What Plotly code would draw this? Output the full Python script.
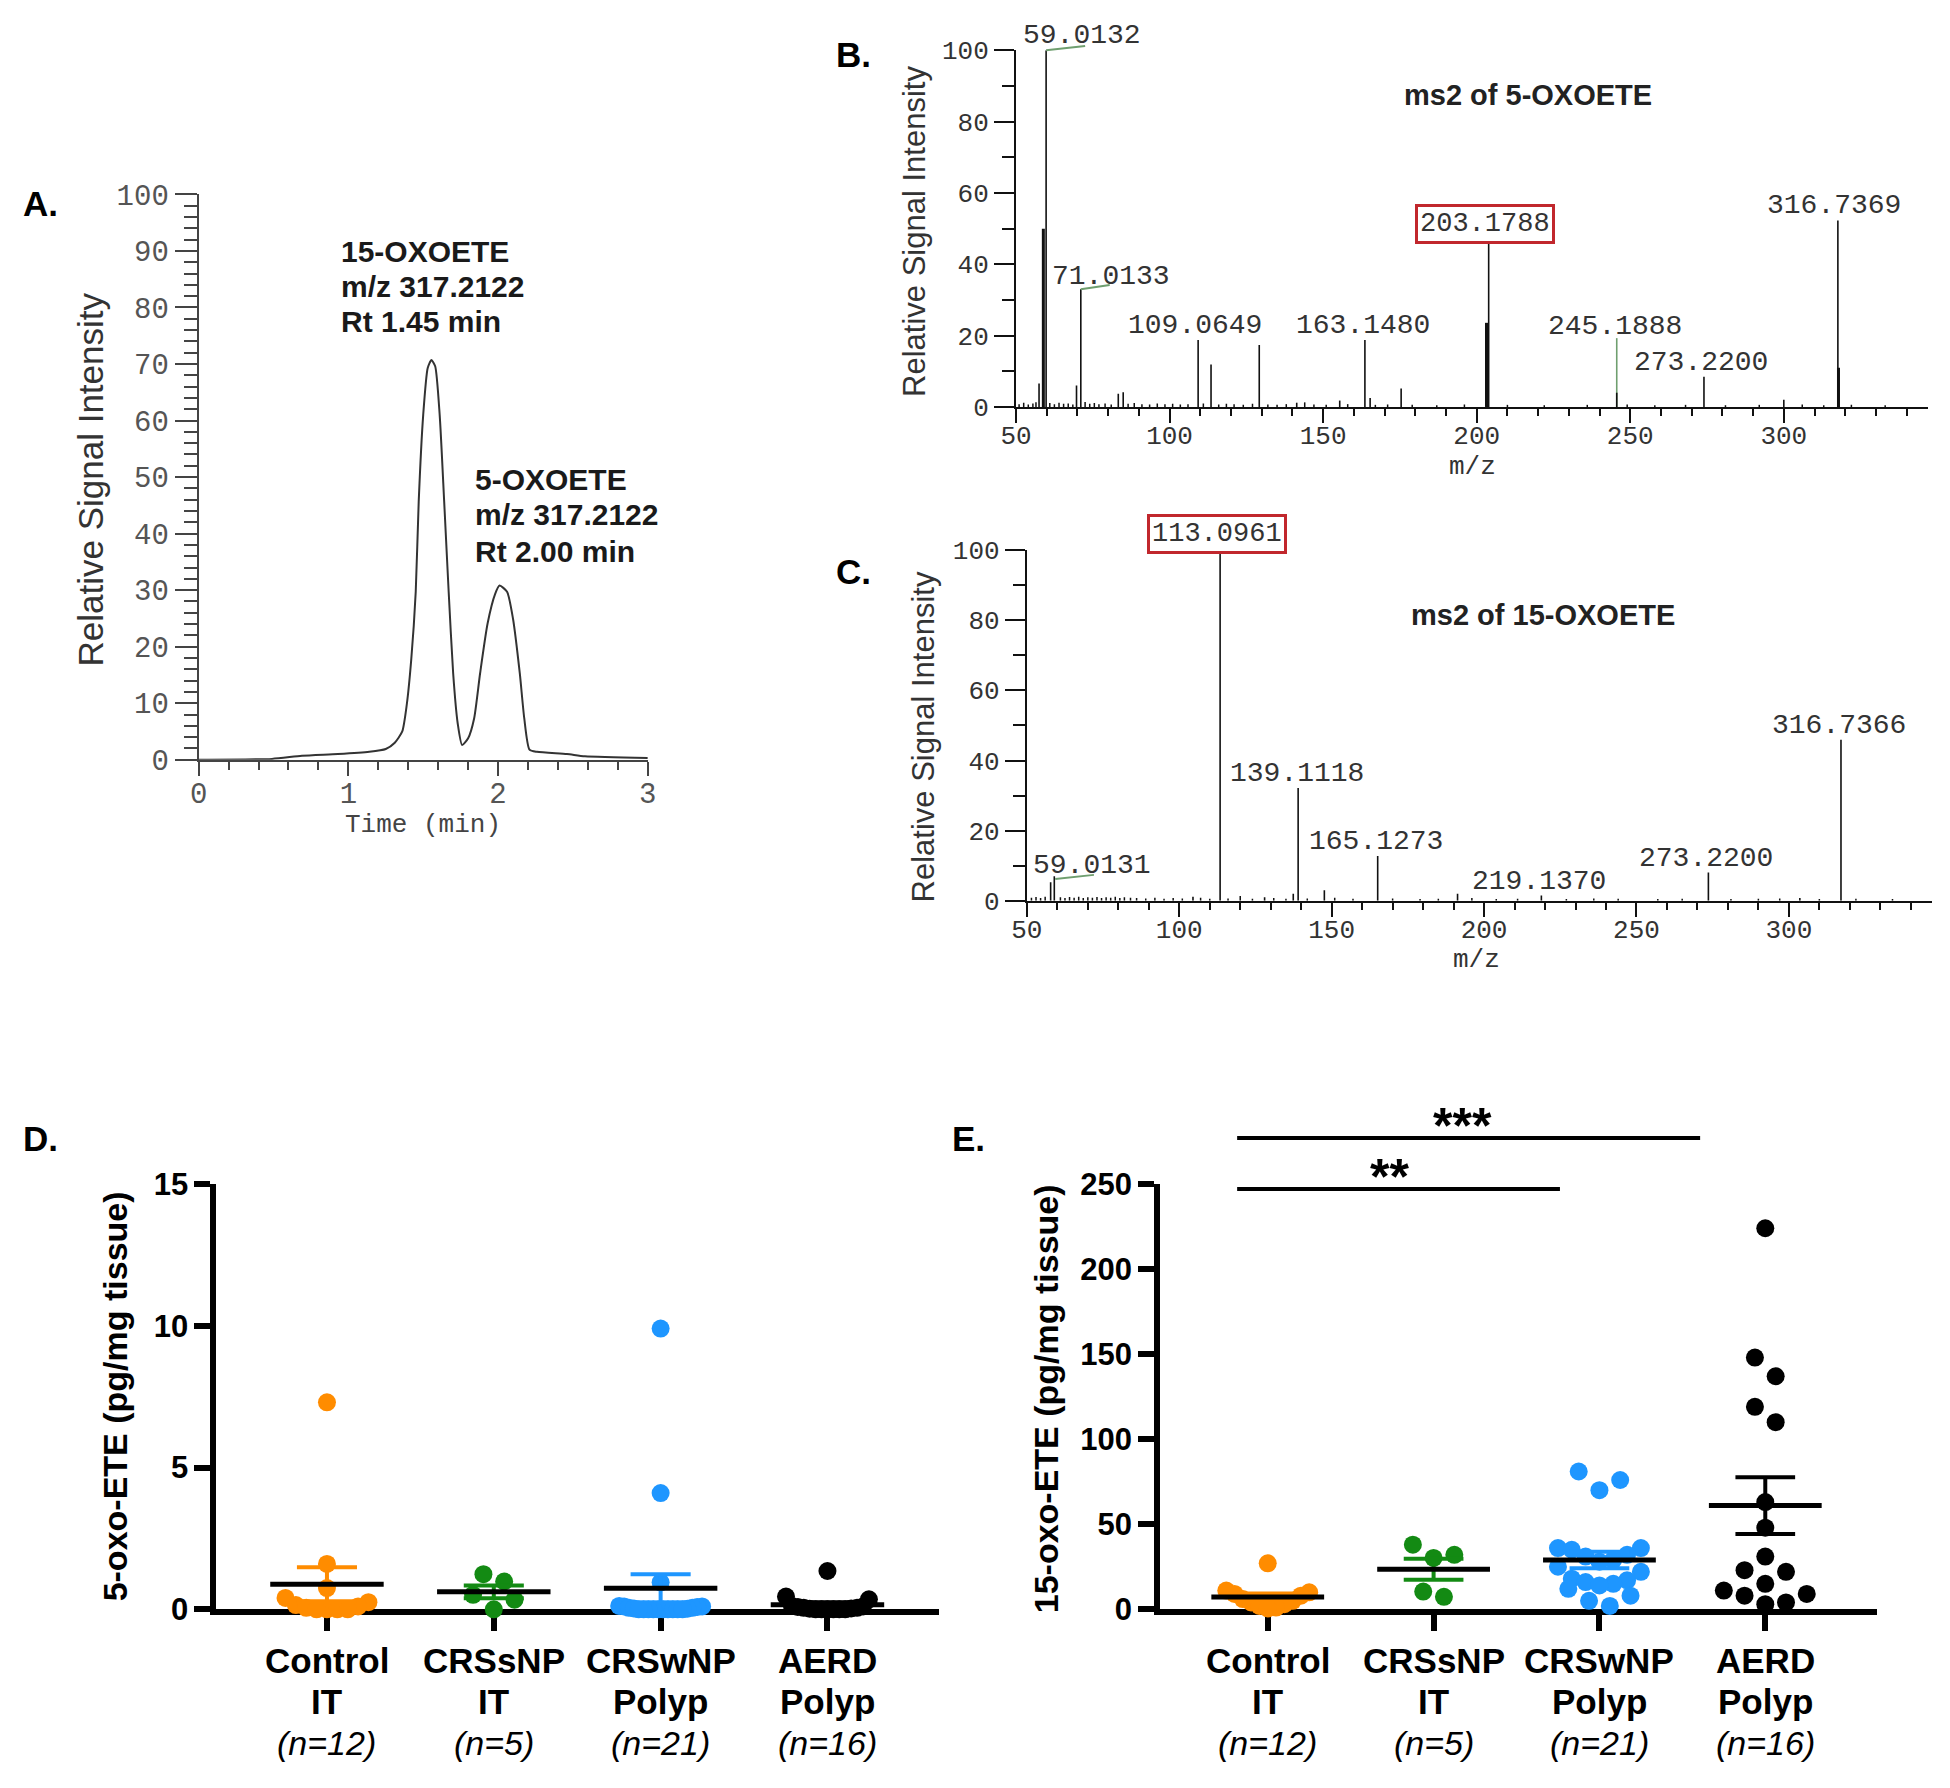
import numpy as np
import plotly.graph_objects as go

W, H = 1950, 1788
MONO = "Liberation Mono, DejaVu Sans Mono, monospace"
SANS = "Liberation Sans, Arial, sans-serif"

# ---------------- Panel A: chromatogram ----------------
A_time = [0.0, 0.49, 0.69, 0.93, 1.14, 1.25, 1.31, 1.36, 1.39, 1.42, 1.45, 1.47, 1.50, 1.53, 1.555,
          1.58, 1.61, 1.64, 1.67, 1.70, 1.73, 1.76, 1.80, 1.84, 1.88, 1.93, 1.98, 2.01, 2.06, 2.10,
          2.145, 2.175, 2.21, 2.26, 2.46, 2.58, 3.0]
A_int = [0.0, 0.15, 0.7, 1.0, 1.4, 1.9, 3.0, 5.0, 9.7, 17.7, 29.7, 45.7, 61.0, 69.3, 70.7,
         69.6, 61.0, 45.7, 29.7, 15.3, 6.5, 2.6, 3.8, 7.3, 15.3, 24.1, 29.3, 30.8, 29.7, 24.9,
         15.3, 7.3, 1.8, 1.4, 1.0, 0.6, 0.3]

# ---------------- Panel B: ms2 of 5-OXOETE ----------------
B_mz = [57.5, 59.8, 69.7, 71.1, 83.3, 84.9, 109.3, 113.5, 129.2, 141.4, 155.4, 163.6, 165.3, 175.4,
        203.9, 245.6, 274.0, 300.0, 317.6]
B_int = [6.6, 100, 6.0, 33.0, 3.7, 4.1, 18.8, 11.9, 17.4, 1.2, 1.8, 18.8, 2.5, 5.2,
         46.8, 4.0, 8.5, 2.0, 52.3]
B_thick_mz = [58.9, 203.2, 317.8]
B_thick_int = [50.0, 23.6, 11.0]
B_green_mz = [245.6]
B_green_int = [19.3]
B_noise_mz = [51, 52.5, 54, 55.5, 56.5, 61, 62.5, 64, 65.5, 67, 68.5, 72.5, 74, 75.5, 77, 79, 81,
              86.5, 88.5, 91, 93.5, 96, 98.5, 101, 103.5, 106, 111, 116, 118.5, 121, 124, 127, 132,
              135, 138, 144, 147, 151, 158, 167, 171, 179, 187, 196, 210, 222, 236, 249, 258, 268,
              281, 292, 306, 313, 322, 333]
B_noise_int = [0.8, 1.2, 0.7, 1.0, 1.3, 1.1, 0.8, 1.2, 0.9, 1.0, 0.7, 1.4, 0.9, 1.1, 0.8, 1.0, 0.7,
               0.9, 1.1, 0.8, 0.7, 1.0, 0.8, 0.9, 0.7, 0.8, 1.0, 0.7, 0.9, 0.8, 0.6, 0.9, 0.7,
               0.6, 0.8, 1.3, 0.7, 0.6, 0.8, 0.6, 0.7, 0.6, 0.5, 0.7, 0.6, 0.5, 0.6, 0.7, 0.5, 0.6,
               0.5, 0.6, 0.7, 0.5, 0.6, 0.5]

# ---------------- Panel C: ms2 of 15-OXOETE ----------------
C_mz = [57.8, 59.0, 104.5, 113.4, 128.0, 137.4, 139.0, 147.6, 165.1, 191.3, 218.8, 273.6, 303.6, 317.1]
C_int = [5.3, 7.0, 1.2, 100, 1.0, 2.0, 32.2, 3.0, 12.8, 2.0, 1.5, 8.1, 0.8, 45.9]
C_noise_mz = [51.5, 53, 54.5, 56, 61, 62.5, 64, 65.5, 67, 68.5, 70, 71.5, 73, 74.5, 76, 77.5, 79,
              80.5, 82, 84, 86, 89, 92, 95, 98, 101, 107, 110, 116, 120, 124, 131, 135, 142, 151,
              157, 170, 179, 185, 196, 204, 211, 227, 236, 244, 257, 265, 281, 290, 297, 310, 322, 334]
C_noise_int = [0.9, 1.1, 0.8, 1.2, 1.0, 0.8, 1.1, 0.9, 1.2, 0.8, 1.0, 0.9, 1.1, 0.8, 1.0, 0.9, 1.2,
               0.8, 1.0, 0.9, 0.8, 0.7, 0.9, 0.6, 0.8, 0.7, 0.9, 0.6, 0.7, 1.4, 0.6, 0.8, 0.6, 0.7,
               0.9, 0.6, 0.7, 0.5, 0.6, 0.8, 0.5, 0.6, 0.5, 0.7, 0.6, 0.5, 0.6, 0.5, 0.6, 0.7, 0.5,
               0.6, 0.5]

# ---------------- Panels D / E: tissue levels ----------------
cat_line1 = ["Control", "CRSsNP", "CRSwNP", "AERD"]
cat_line2 = ["IT", "IT", "Polyp", "Polyp"]
cat_n = ["(n=12)", "(n=5)", "(n=21)", "(n=16)"]
group_colors = ["#FF8C00", "#138A13", "#1E96FF", "#000000"]

D_control = [7.3, 1.6, 0.75, 0.4, 0.25, 0.15, 0.1, 0.05, 0.0, 0.0, 0.0, 0.0]
D_crssnp = [1.24, 0.98, 0.51, 0.34, 0.0]
D_crswnp = [9.9, 4.1, 0.95, 0.12, 0.1, 0.1, 0.08, 0.05, 0.05, 0.03, 0.02,
            0.0, 0.0, 0.0, 0.0, 0.0, 0.0, 0.0, 0.0, 0.0, 0.0]
D_aerd = [1.35, 0.45, 0.35, 0.12, 0.1, 0.08, 0.05, 0.05, 0.03, 0.02, 0.0, 0.0, 0.0, 0.0, 0.0, 0.0]

E_control = [27, 11, 10, 9, 8, 6, 5, 4, 3, 2, 1, 0.5]
E_crssnp = [38, 32, 30.2, 10.4, 7.3]
E_crswnp = [81, 76, 70, 36, 36, 35, 32, 31, 29, 28, 25, 22, 18, 17, 16, 15, 14, 12, 8, 5, 2]
E_aerd = [224, 148, 137, 119, 110, 63, 48, 31, 23, 22, 15, 11, 9, 8, 4, 3]

D_groups = [D_control, D_crssnp, D_crswnp, D_aerd]
E_groups = [E_control, E_crssnp, E_crswnp, E_aerd]


# ---------------- helpers ----------------
def px(x):
    return x / W


def py(y):
    return 1 - y / H


def sticks(mz, inten):
    xs, ys = [], []
    for m, h in zip(mz, inten):
        xs += [m, m, None]
        ys += [0, h, None]
    return xs, ys


def spread(vals, unit_px, cat_px, row_h=16, gap=21, maxhalf=42):
    """Deterministic column-scatter layout (Prism-like rows)."""
    v = np.asarray(vals, float)
    order = np.argsort(v, kind="stable")
    offs = np.zeros(len(v))
    rows, cur = [], [order[0]]
    for i in order[1:]:
        if (v[i] - v[cur[0]]) * unit_px < row_h:
            cur.append(i)
        else:
            rows.append(cur)
            cur = [i]
    rows.append(cur)
    for r in rows:
        n = len(r)
        if n == 1:
            continue
        sp = min(gap, 2 * maxhalf / (n - 1))
        slots = sorted([(j - (n - 1) / 2) * sp for j in range(n)], key=lambda s: (round(abs(s), 6), -s))
        for idx, s in zip(r, slots):
            offs[idx] = s / cat_px
    return offs


fig = go.Figure()

# ---- A ----
fig.add_trace(go.Scatter(x=A_time, y=A_int, mode="lines",
                         line=dict(color="#333333", width=2, shape="spline", smoothing=0.6),
                         xaxis="x", yaxis="y", hoverinfo="skip"))

# ---- B ----
xs, ys = sticks(B_noise_mz, B_noise_int)
fig.add_trace(go.Scatter(x=xs, y=ys, mode="lines", line=dict(color="#111", width=1.5), xaxis="x2", yaxis="y2"))
xs, ys = sticks(B_green_mz, B_green_int)
fig.add_trace(go.Scatter(x=xs, y=ys, mode="lines", line=dict(color="#6f9f6f", width=1.6), xaxis="x2", yaxis="y2"))
xs, ys = sticks(B_mz, B_int)
fig.add_trace(go.Scatter(x=xs, y=ys, mode="lines", line=dict(color="#111", width=1.6), xaxis="x2", yaxis="y2"))
xs, ys = sticks(B_thick_mz, B_thick_int)
fig.add_trace(go.Scatter(x=xs, y=ys, mode="lines", line=dict(color="#111", width=3), xaxis="x2", yaxis="y2"))

# ---- C ----
xs, ys = sticks(C_noise_mz, C_noise_int)
fig.add_trace(go.Scatter(x=xs, y=ys, mode="lines", line=dict(color="#111", width=1.5), xaxis="x3", yaxis="y3"))
xs, ys = sticks(C_mz, C_int)
fig.add_trace(go.Scatter(x=xs, y=ys, mode="lines", line=dict(color="#111", width=1.6), xaxis="x3", yaxis="y3"))


# ---- D / E ----
def add_dot_panel(groups, xa, ya, unit_px, cat_px, row_h):
    for k, vals in enumerate(groups):
        offs = spread(vals, unit_px, cat_px, row_h=row_h)
        fig.add_trace(go.Scatter(x=k + offs, y=vals, mode="markers", cliponaxis=False,
                                 marker=dict(size=18, color=group_colors[k], line=dict(width=0)),
                                 xaxis=xa, yaxis=ya))
    for k, vals in enumerate(groups):
        v = np.asarray(vals, float)
        m = v.mean()
        sem = v.std(ddof=1) / np.sqrt(len(v))
        cw = 0.18
        fig.add_trace(go.Scatter(
            x=[k, k, None, k - cw, k + cw, None, k - cw, k + cw],
            y=[m - sem, m + sem, None, m + sem, m + sem, None, m - sem, m - sem],
            mode="lines", line=dict(color=group_colors[k], width=4), cliponaxis=False,
            xaxis=xa, yaxis=ya))
        fig.add_trace(go.Scatter(x=[k - 0.34, k + 0.34], y=[m, m], mode="lines",
                                 line=dict(color="black", width=5), xaxis=xa, yaxis=ya))


add_dot_panel(D_groups, "x4", "y4", 434 / 15, 169, 16)
add_dot_panel(E_groups, "x5", "y5", 434 / 250, 168, 20)

# ---------------- axes ----------------
thin_common = dict(showgrid=False, zeroline=False, showline=True, ticks="outside")


def spec_ax(dom, color, fontcolor, rng, dtick, mdtick, tl, mtl, fsize, standoff=0):
    return dict(**thin_common, domain=dom, range=rng, dtick=dtick, tick0=0, linecolor=color, linewidth=2,
                tickcolor=color, tickwidth=2, ticklen=tl, ticklabelstandoff=standoff,
                minor=dict(dtick=mdtick, ticklen=mtl, tickwidth=2, tickcolor=color, ticks="outside"),
                tickfont=dict(family=MONO, size=fsize, color=fontcolor))


layout_axes = dict(
    xaxis=dict(**spec_ax([px(185), px(640)], "#444", "#555", [0, 3], 1, 0.2, 14, 8, 29, -8), anchor="y"),
    yaxis=dict(**spec_ax([py(758), py(181)], "#444", "#555", [0, 100], 10, 2, 22, 13, 29), anchor="x"),
    xaxis2=dict(**spec_ax([px(1013), px(1937)], "#111", "#333", [50, 347], 50, 10, 14, 7, 26, -10), anchor="y2"),
    yaxis2=dict(**spec_ax([py(398), py(34)], "#111", "#333", [0, 100], 20, 10, 20, 12, 26), anchor="x2"),
    xaxis3=dict(**spec_ax([px(1024), px(1941)], "#111", "#333", [50, 347], 50, 10, 14, 7, 26, -10), anchor="y3"),
    yaxis3=dict(**spec_ax([py(902), py(544)], "#111", "#333", [0, 100], 20, 10, 20, 12, 26), anchor="x3"),
)

thick_x = dict(showgrid=False, zeroline=False, showline=True, linecolor="black", linewidth=6,
               ticks="outside", tickcolor="black", tickwidth=6, ticklen=16, tickvals=[0, 1, 2, 3],
               showticklabels=False, layer="below traces")
thick_y = dict(showgrid=False, zeroline=False, showline=True, linecolor="black", linewidth=6,
               ticks="outside", tickcolor="black", tickwidth=6, ticklen=16,
               tickfont=dict(family=SANS, size=31, color="black", weight="bold"))
layout_axes.update(
    xaxis4=dict(**thick_x, domain=[px(203), px(935)], range=[(203 - 315) / 169, (935 - 315) / 169], anchor="y4"),
    yaxis4=dict(**thick_y, domain=[py(1625), py(1191)], range=[0, 15], tickvals=[0, 5, 10, 15], anchor="x4"),
    xaxis5=dict(**thick_x, domain=[px(1159), px(1885)], range=[(1159 - 1268) / 168, (1885 - 1268) / 168], anchor="y5"),
    yaxis5=dict(**thick_y, domain=[py(1625), py(1191)], range=[0, 250], tickvals=[0, 50, 100, 150, 200, 250], anchor="x5"),
)

# ---------------- annotations ----------------
ann = []


def text(x, y, t, size, family=SANS, color="black", weight="normal", style="normal", xanchor="center",
         yanchor="middle", textangle=0, xref="paper", yref="paper", **kw):
    ann.append(dict(x=x, y=y, xref=xref, yref=yref, text=t, showarrow=False, xanchor=xanchor, yanchor=yanchor,
                    textangle=textangle,
                    font=dict(family=family, size=size, color=color, weight=weight, style=style), **kw))


def ypB(v):
    return py(398) + v / 100 * (py(34) - py(398))


def ypC(v):
    return py(902) + v / 100 * (py(544) - py(902))


# panel letters
for lab, (lx, ly) in zip(["A.", "B.", "C.", "D.", "E."], [(5, 190), (829, 38), (829, 566), (5, 1145), (946, 1145)]):
    text(px(lx), py(ly), lab, 35, weight="bold", xanchor="left")

# A
text(px(75), py(472), "Relative Signal Intensity", 35, color="#333", textangle=-90)
text(px(412), py(825), "Time (min)", 26, family=MONO, color="#444")
for t, yy in zip(["15-OXOETE", "m/z 317.2122", "Rt 1.45 min"], [239, 275, 311]):
    text(px(327), py(yy), t, 30, color="#1a1a1a", weight="bold", xanchor="left")
for t, yy in zip(["5-OXOETE", "m/z 317.2122", "Rt 2.00 min"], [472, 508, 545]):
    text(px(463), py(yy), t, 30, color="#1a1a1a", weight="bold", xanchor="left")

# B
text(px(910), py(219), "Relative Signal Intensity", 31, color="#333", textangle=-90)
text(px(1475), py(459), "m/z", 26, family=MONO, color="#333")
for t, xx, yy in zip(["59.0132", "71.0133", "109.0649", "163.1480", "245.1888", "273.2200", "316.7369"],
                     [71.6, 80.9, 108.3, 162.9, 245.0, 273.1, 316.4],
                     [104.1, 36.7, 22.9, 22.9, 22.5, 12.4, 56.4]):
    text(xx, ypB(yy), t, 28, family=MONO, color="#333", xref="x2")
text(202.7, ypB(51.4), "203.1788", 27, family=MONO, color="#333", xref="x2",
     bordercolor="#C1272D", borderwidth=3, borderpad=2, bgcolor="white")
text(216.8, ypB(87.6), "ms2 of 5-OXOETE", 29, weight="bold", color="#222", xref="x2")

# C
text(px(919), py(735), "Relative Signal Intensity", 31, color="#333", textangle=-90)
text(px(1479), py(962), "m/z", 26, family=MONO, color="#333")
for t, xx, yy in zip(["139.1118", "165.1273", "219.1370", "273.2200", "316.7366", "59.0131"],
                     [138.6, 164.4, 218.1, 272.7, 316.6, 71.4],
                     [36.4, 16.8, 5.6, 12.1, 50.1, 10.0]):
    text(xx, ypC(yy), t, 28, family=MONO, color="#333", xref="x3")
text(112.4, ypC(104.5), "113.0961", 27, family=MONO, color="#333", xref="x3",
     bordercolor="#C1272D", borderwidth=3, borderpad=2, bgcolor="white")
text(219.3, ypC(81.4), "ms2 of 15-OXOETE", 29, weight="bold", color="#222", xref="x3")

# D / E titles and category labels
text(px(100), py(1408), "5-oxo-ETE (pg/mg tissue)", 34, weight="bold", textangle=-90)
text(px(1043), py(1410), "15-oxo-ETE (pg/mg tissue)", 34, weight="bold", textangle=-90)
for xr in ["x4", "x5"]:
    for k in range(4):
        text(k, py(1677), cat_line1[k], 35, weight="bold", xref=xr)
        text(k, py(1719), cat_line2[k], 35, weight="bold", xref=xr)
        text(k, py(1761), cat_n[k], 34, style="italic", xref=xr)

# significance
text(px(1465), py(1132), "***", 50, weight="bold")
text(px(1391), py(1184), "**", 50, weight="bold")

shapes = [
    dict(type="line", xref="paper", yref="paper", x0=px(1237), x1=px(1706), y0=py(1144), y1=py(1144),
         line=dict(color="black", width=4)),
    dict(type="line", xref="paper", yref="paper", x0=px(1237), x1=px(1564), y0=py(1196), y1=py(1196),
         line=dict(color="black", width=4)),
]

# green label brackets (x in data, y in paper so they are not clipped)
for x0, y0, x1, y1, xr, f in [(59.8, 100, 72.5, 101.2, "x2", ypB), (71.1, 33, 80.5, 34.2, "x2", ypB),
                               (59.3, 6.2, 72.0, 7.4, "x3", ypC)]:
    shapes.append(dict(type="line", xref=xr, yref="paper", x0=x0, x1=x1, y0=f(y0), y1=f(y1),
                       line=dict(color="#6f9f6f", width=2)))

fig.update_layout(width=W, height=H, margin=dict(l=0, r=0, t=0, b=0), paper_bgcolor="white",
                  plot_bgcolor="white", showlegend=False, annotations=ann, shapes=shapes, **layout_axes)

fig.write_html("out.html", config={"displayModeBar": False},
               post_script="document.body.style.margin='0px';")
